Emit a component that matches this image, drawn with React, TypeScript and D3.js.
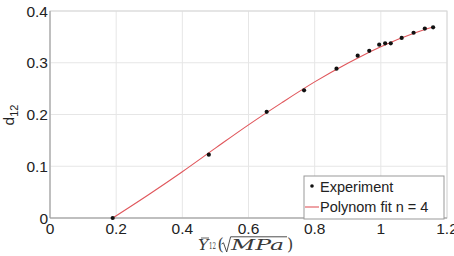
import React from "react";
import * as d3 from "d3";

const expX = [0.1895, 0.48, 0.655, 0.768, 0.866, 0.93, 0.965, 0.995, 1.013, 1.03, 1.063, 1.099, 1.133, 1.158];
const expY = [0.0, 0.1223, 0.2052, 0.2467, 0.2886, 0.3137, 0.323, 0.335, 0.3375, 0.3375, 0.348, 0.358, 0.366, 0.3685];
const fitX = [0.1895, 0.3, 0.4, 0.5, 0.6, 0.7, 0.8, 0.9, 1.0, 1.1, 1.158];
const fitY = [0.0, 0.046, 0.0895, 0.135, 0.18, 0.2225, 0.263, 0.299, 0.331, 0.357, 0.369];
const xTicks = [0, 0.2, 0.4, 0.6, 0.8, 1, 1.2];
const yTicks = [0, 0.1, 0.2, 0.3, 0.4];
const seriesNames = ["Experiment", "Polynom fit n = 4"];

const W = 454, H = 256;
const L = 50, R = 447, T = 11, B = 218;

export default function App() {
  const x = d3.scaleLinear().domain([0, 1.2]).range([L, R]);
  const y = d3.scaleLinear().domain([0, 0.4]).range([B, T]);
  const line = d3
    .line<number>()
    .x((_, i) => x(fitX[i]))
    .y((_, i) => y(fitY[i]))
    .curve(d3.curveMonotoneX);
  const font = "'Liberation Sans', Arial, sans-serif";
  return (
    <svg width={W} height={H} style={{ position: "absolute", left: 0, top: 0 }}>
      <rect x={0} y={0} width={W} height={H} fill="#fff" />
      {xTicks.map((t) => (
        <line key={"gx" + t} x1={x(t)} x2={x(t)} y1={T} y2={B} stroke="#e6e6e6" strokeWidth={1} />
      ))}
      {yTicks.map((t) => (
        <line key={"gy" + t} x1={L} x2={R} y1={y(t)} y2={y(t)} stroke="#e6e6e6" strokeWidth={1} />
      ))}
      <rect x={L} y={T} width={R - L} height={B - T} fill="none" stroke="#d8d8d8" />
      <line x1={L} x2={L} y1={T} y2={B} stroke="#999" />
      <line x1={L} x2={R} y1={B} y2={B} stroke="#999" />
      {xTicks.map((t) => (
        <text key={"xt" + t} x={x(t)} y={234} textAnchor="middle" fontFamily={font} fontSize={15.5} fill="#222">
          {d3.format("~g")(t)}
        </text>
      ))}
      {yTicks.map((t) => (
        <text key={"yt" + t} x={48} y={y(t) + 5.5} textAnchor="end" fontFamily={font} fontSize={15.5} fill="#222">
          {d3.format("~g")(t)}
        </text>
      ))}
      <text transform={`translate(14,115) rotate(-90)`} textAnchor="middle" fontFamily={font} fontSize={15.5} fill="#222">
        d<tspan fontSize={11} dy={4}>12</tspan>
      </text>
      <g fontFamily="'DejaVu Serif', 'Liberation Serif', serif" fill="#3a3a3a">
        <text x={198} y={249.5} fontSize={15} fontStyle="italic" textLength={10.5} lengthAdjust="spacingAndGlyphs">Y</text>
        <line x1={201} x2={209} y1={238} y2={238} stroke="#3a3a3a" strokeWidth={0.8} />
        <text x={209} y={249} fontSize={9} textLength={7} lengthAdjust="spacingAndGlyphs">12</text>
        <text x={217.5} y={250} fontSize={16}>(</text>
        <path d="M221.5,244 L223.5,242.8 L226.7,252 L230.6,236.8 L287,236.8" fill="none" stroke="#3a3a3a" strokeWidth={0.9} />
        <text x={231} y={249.5} fontSize={15} fontStyle="italic" textLength={53} lengthAdjust="spacingAndGlyphs">MPa</text>
        <text x={287} y={250} fontSize={16}>)</text>
      </g>
      <path d={line(fitX) || ""} fill="none" stroke="#e0565b" strokeWidth={1.1} />
      {expX.map((v, i) => (
        <circle key={"p" + i} cx={x(v)} cy={y(expY[i])} r={2.1} fill="#111" />
      ))}
      <rect x={304} y={176} width={140} height={43} fill="#fff" stroke="#999" />
      <circle cx={312} cy={186} r={1.8} fill="#111" />
      <text x={320} y={192} fontFamily={font} fontSize={14.5} fill="#222">{seriesNames[0]}</text>
      <line x1={305} x2={319} y1={207} y2={207} stroke="#e0565b" strokeWidth={1.1} />
      <text x={320} y={212} fontFamily={font} fontSize={14.5} fill="#222">{seriesNames[1]}</text>
    </svg>
  );
}
